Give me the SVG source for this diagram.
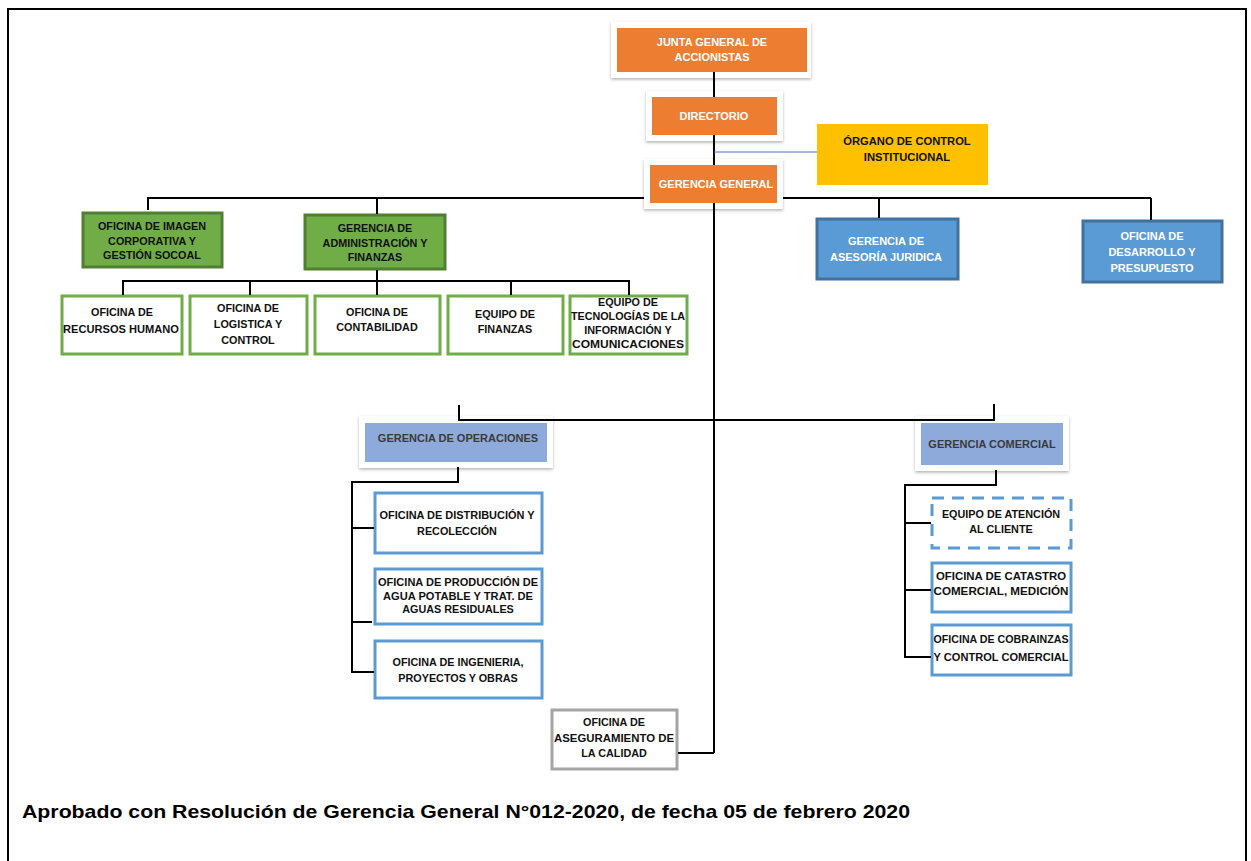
<svg xmlns="http://www.w3.org/2000/svg" width="1251" height="861" viewBox="0 0 1251 861">
<defs>
<filter id="sh" x="-10%" y="-20%" width="120%" height="150%">
<feDropShadow dx="0" dy="1.5" stdDeviation="1.5" flood-color="#000" flood-opacity="0.3"/>
</filter>
<style>
text{font-family:"Liberation Sans",Arial,sans-serif;font-weight:bold;text-anchor:middle}
.t{font-size:10.8px;fill:#111}
.w{font-size:11px;fill:#fff}
.d{font-size:11px;fill:#3a3a3a}
.k{font-size:11.2px;fill:#111}
.pad{fill:#fff;filter:url(#sh)}
.or{fill:#ED7D31}
.gr{fill:#70AD47;stroke:#507E32;stroke-width:3}
.bl{fill:#5B9BD5;stroke:#41719C;stroke-width:3}
.gb{fill:#fff;stroke:#70AD47;stroke-width:3}
.bb{fill:#fff;stroke:#5B9BD5;stroke-width:3}
.lb{fill:#8EAADB}
.ln{fill:none;stroke:#000;stroke-width:2}
</style>
</defs>
<rect x="0" y="0" width="1251" height="861" fill="#fff"/>
<path d="M8 870 V9 H1246 V870" fill="none" stroke="#000" stroke-width="2"/>

<g id="junta">
<rect class="pad" x="611" y="22" width="200" height="56"/>
<rect class="or" x="617" y="28" width="190" height="44"/>
<text class="w" x="712" y="46">JUNTA GENERAL DE</text>
<text class="w" x="712" y="61">ACCIONISTAS</text>
</g>
<g id="directorio">
<rect class="pad" x="646" y="91" width="137" height="50"/>
<rect class="or" x="652" y="97" width="125" height="38"/>
<text class="w" x="714" y="120">DIRECTORIO</text>
</g>
<g id="organo">
<rect fill="#FFC000" x="817" y="124" width="171" height="61"/>
<text class="k" x="907" y="145">ÓRGANO DE CONTROL</text>
<text class="k" x="907" y="161">INSTITUCIONAL</text>
</g>
<g id="gerencia-general">
<rect class="pad" x="644" y="159" width="139" height="50"/>
<rect class="or" x="650" y="165" width="127" height="38"/>
<text class="w" x="716" y="188">GERENCIA GENERAL</text>
</g>

<g id="imagen">
<rect class="gr" x="83" y="213" width="139" height="54"/>
<text class="t" x="152" y="230">OFICINA DE IMAGEN</text>
<text class="t" x="152" y="245">CORPORATIVA Y</text>
<text class="t" x="152" y="259">GESTIÓN SOCOAL</text>
</g>
<g id="administracion">
<rect class="gr" x="305" y="215" width="140" height="54"/>
<text class="t" x="375" y="232">GERENCIA DE</text>
<text class="t" x="375" y="247">ADMINISTRACIÓN Y</text>
<text class="t" x="375" y="261">FINANZAS</text>
</g>
<g id="asesoria">
<rect class="bl" x="817" y="219" width="141" height="60"/>
<text class="w" x="886" y="245" font-size="10.6">GERENCIA  DE</text>
<text class="w" x="886" y="261" font-size="10.6">ASESORÍA JURIDICA</text>
</g>
<g id="desarrollo">
<rect class="bl" x="1083" y="221" width="139" height="61"/>
<text class="w" x="1152" y="240" font-size="10.6">OFICINA DE</text>
<text class="w" x="1152" y="256" font-size="10.6">DESARROLLO Y</text>
<text class="w" x="1152" y="272" font-size="10.6">PRESUPUESTO</text>
</g>

<g id="rrhh">
<rect class="gb" x="62" y="296" width="120" height="58"/>
<text class="t" x="122" y="316">OFICINA DE</text>
<text class="t" x="121" y="333" textLength="116" lengthAdjust="spacingAndGlyphs">RECURSOS HUMANO</text>
</g>
<g id="logistica">
<rect class="gb" x="190" y="296" width="117" height="58"/>
<text class="t" x="248" y="312">OFICINA DE</text>
<text class="t" x="248" y="328">LOGISTICA Y</text>
<text class="t" x="248" y="344">CONTROL</text>
</g>
<g id="contabilidad">
<rect class="gb" x="315" y="296" width="125" height="58"/>
<text class="t" x="377" y="316">OFICINA DE</text>
<text class="t" x="377" y="331">CONTABILIDAD</text>
</g>
<g id="finanzas">
<rect class="gb" x="448" y="296" width="115" height="58"/>
<text class="t" x="505" y="318">EQUIPO DE</text>
<text class="t" x="505" y="333">FINANZAS</text>
</g>
<g id="tic">
<rect class="gb" x="570" y="296" width="117" height="58"/>
<text class="t" x="628" y="306">EQUIPO DE</text>
<text class="t" x="628" y="320" textLength="114" lengthAdjust="spacingAndGlyphs">TECNOLOGÍAS DE LA</text>
<text class="t" x="628" y="334">INFORMACIÓN Y</text>
<text class="t" x="628" y="348" textLength="112" lengthAdjust="spacingAndGlyphs">COMUNICACIONES</text>
</g>

<g id="operaciones">
<rect class="pad" x="359" y="416" width="194" height="52"/>
<rect class="lb" x="365" y="423" width="182" height="39"/>
<text class="d" x="458" y="442">GERENCIA DE OPERACIONES</text>
</g>
<g id="comercial">
<rect class="pad" x="915" y="416" width="154" height="55"/>
<rect class="lb" x="921" y="423" width="142" height="42"/>
<text class="d" x="992" y="448">GERENCIA COMERCIAL</text>
</g>

<g id="distribucion">
<rect class="bb" x="375" y="493" width="167" height="60"/>
<text class="t" x="457" y="519" textLength="155" lengthAdjust="spacingAndGlyphs">OFICINA DE DISTRIBUCIÓN Y</text>
<text class="t" x="457" y="535">RECOLECCIÓN</text>
</g>
<g id="produccion">
<rect class="bb" x="375" y="569" width="167" height="55"/>
<text class="t" x="458" y="586" textLength="160" lengthAdjust="spacingAndGlyphs">OFICINA DE PRODUCCIÓN DE</text>
<text class="t" x="458" y="600" textLength="150" lengthAdjust="spacingAndGlyphs">AGUA POTABLE Y TRAT. DE</text>
<text class="t" x="458" y="613">AGUAS RESIDUALES</text>
</g>
<g id="ingenieria">
<rect class="bb" x="375" y="641" width="167" height="57"/>
<text class="t" x="458" y="666">OFICINA DE INGENIERIA,</text>
<text class="t" x="458" y="682">PROYECTOS Y OBRAS</text>
</g>

<g id="atencion">
<rect fill="#fff" stroke="#5B9BD5" stroke-width="3" stroke-dasharray="12 8" x="932" y="498" width="139" height="50"/>
<text class="t" x="1001" y="518">EQUIPO DE ATENCIÓN</text>
<text class="t" x="1001" y="533">AL CLIENTE</text>
</g>
<g id="catastro">
<rect class="bb" x="932" y="563" width="139" height="49"/>
<text class="t" x="1001" y="580" textLength="130" lengthAdjust="spacingAndGlyphs">OFICINA DE CATASTRO</text>
<text class="t" x="1001" y="595" textLength="135" lengthAdjust="spacingAndGlyphs">COMERCIAL, MEDICIÓN</text>
</g>
<g id="cobranzas">
<rect class="bb" x="932" y="625" width="139" height="50"/>
<text class="t" x="1001" y="643" textLength="135" lengthAdjust="spacingAndGlyphs">OFICINA DE COBRAINZAS</text>
<text class="t" x="1001" y="661" textLength="135" lengthAdjust="spacingAndGlyphs">Y CONTROL COMERCIAL</text>
</g>

<g id="calidad">
<rect fill="#fff" stroke="#A5A5A5" stroke-width="3" x="552" y="710" width="125" height="59"/>
<text class="t" x="614" y="726">OFICINA DE</text>
<text class="t" x="614" y="742" textLength="120" lengthAdjust="spacingAndGlyphs">ASEGURAMIENTO DE</text>
<text class="t" x="614" y="757">LA CALIDAD</text>
</g>

<g id="connectors">
<path class="ln" stroke-width="1.5" d="M714 72 V97 M714 135 V165 M714 203 V753"/>
<path class="ln" stroke-width="2.5" d="M714 753 H678"/>
<path d="M714 152 H817" stroke="#4472C4" stroke-width="1" fill="none"/>
<path class="ln" stroke-width="2.5" d="M148 210 V198 H644 M783 198 H1151"/>
<path class="ln" stroke-width="4" d="M377 198 V214 M879 199 V218 M1151 198 V220"/>
<path class="ln" stroke-width="1.5" d="M123 295 V281 H629 V295 M250 281 V295 M377 270 V295 M511 281 V295"/>
<path class="ln" stroke-width="2.5" d="M459 405 V420 H994 V404"/>
<path class="ln" stroke-width="2.5" d="M458 467 V482 H352 V672 H374 M352 528 H374 M352 622 H372"/>
<path class="ln" stroke-width="2.5" d="M996 470 V485 H905 V657 H931 M905 523 H931 M905 590 H931"/>
</g>

<text x="22" y="818" style="text-anchor:start;font-size:18.5px;fill:#000" textLength="888" lengthAdjust="spacingAndGlyphs">Aprobado con Resolución de Gerencia General N°012-2020, de fecha 05 de febrero 2020</text>
</svg>
